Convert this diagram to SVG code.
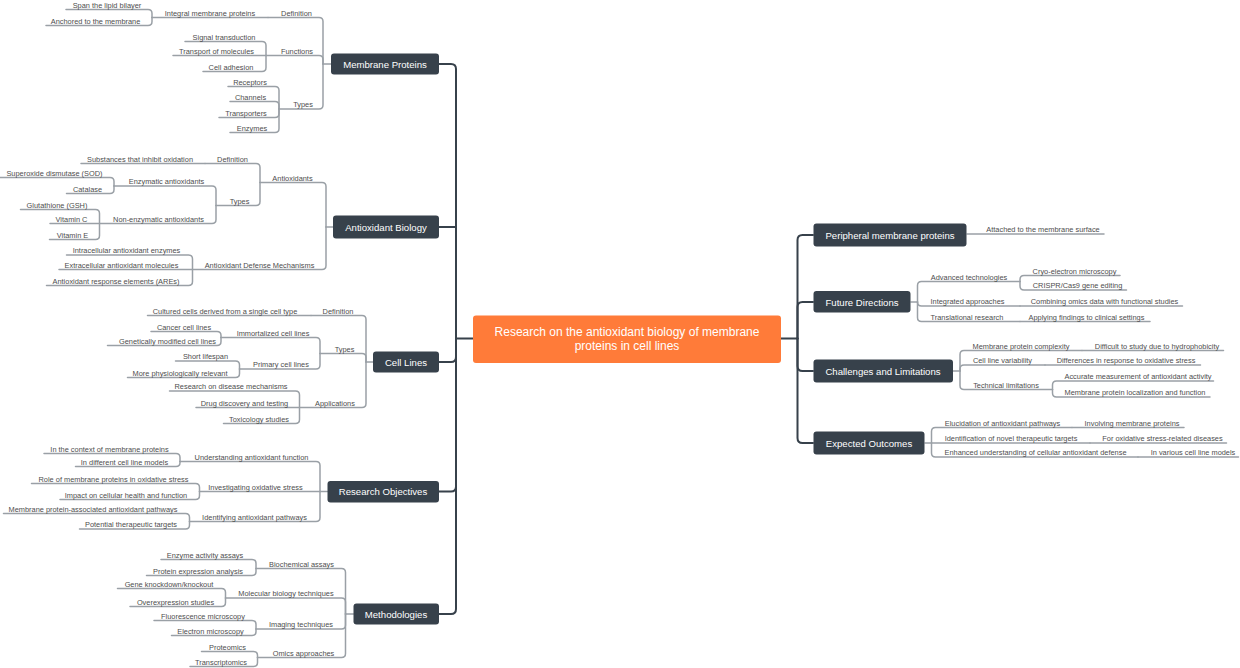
<svg xmlns="http://www.w3.org/2000/svg" width="1240" height="668" viewBox="0 0 1240 668">
<style>
.bg{fill:#ffffff}
.main{fill:none;stroke:#37414b;stroke-width:2;stroke-linecap:round;stroke-linejoin:round}
.sub{fill:none;stroke:#9aa0a6;stroke-width:1.5;stroke-linecap:round;stroke-linejoin:round}
.box{fill:#37414b}
.root{fill:#ff7b39}
.bt{font-family:"Liberation Sans",Arial,sans-serif;font-size:9.6px;fill:#ffffff;text-anchor:middle}
.rt{font-family:"Liberation Sans",Arial,sans-serif;font-size:12px;fill:#ffffff;text-anchor:middle}
.l{font-family:"Liberation Sans",Arial,sans-serif;font-size:7.4px;fill:#4d4d4d;text-anchor:middle}
</style>
<rect class="bg" x="0" y="0" width="1240" height="668"/>
<g id="connectors">
<g id="main-connectors">
<path class="main" d="M473 338.5 H456"/>
<path class="main" d="M456 338.5 V69 Q456 64 451 64 H439"/>
<path class="main" d="M456 338.5 V227 H439"/>
<path class="main" d="M456 338.5 V357 Q456 362 451 362 H439"/>
<path class="main" d="M456 338.5 V486.5 Q456 491.5 451 491.5 H439"/>
<path class="main" d="M456 338.5 V609 Q456 614 451 614 H439"/>
<path class="main" d="M781 338.5 H797.5"/>
<path class="main" d="M797.5 338.5 V240 Q797.5 235 802.5 235 H813"/>
<path class="main" d="M797.5 338.5 V307 Q797.5 302 802.5 302 H813"/>
<path class="main" d="M797.5 338.5 V366 Q797.5 371 802.5 371 H813"/>
<path class="main" d="M797.5 338.5 V438 Q797.5 443 802.5 443 H813"/>
</g>
<g id="sub-connectors">
<path class="sub" d="M331 64 H323"/>
<path class="sub" d="M323 64 V21.5 Q323 17.5 319 17.5 H268"/>
<path class="sub" d="M268 17.5 H152"/>
<path class="sub" d="M152 17.5 V13.5 Q152 9.5 148 9.5 H66"/>
<path class="sub" d="M152 17.5 V21.5 Q152 25.5 148 25.5 H46"/>
<path class="sub" d="M323 64 V59.5 Q323 55.5 319 55.5 H266"/>
<path class="sub" d="M266 55.5 V45.5 Q266 41.5 262 41.5 H185"/>
<path class="sub" d="M266 55.5 H173"/>
<path class="sub" d="M266 55.5 V67.5 Q266 71.5 262 71.5 H203"/>
<path class="sub" d="M323 64 V105 Q323 109 319 109 H279"/>
<path class="sub" d="M279 109 V90.5 Q279 86.5 275 86.5 H228"/>
<path class="sub" d="M279 109 V105.5 Q279 101.5 275 101.5 H230"/>
<path class="sub" d="M279 109 V113.5 Q279 117.5 275 117.5 H219"/>
<path class="sub" d="M279 109 V128.5 Q279 132.5 275 132.5 H230"/>

<path class="sub" d="M333 227 H326"/>
<path class="sub" d="M326 227 V186.5 Q326 182.5 322 182.5 H260"/>
<path class="sub" d="M260 182.5 V167.5 Q260 163.5 256 163.5 H205"/>
<path class="sub" d="M205 163.5 H81"/>
<path class="sub" d="M260 182.5 V201.5 Q260 205.5 256 205.5 H216"/>
<path class="sub" d="M216 205.5 V190 Q216 186 212 186 H114"/>
<path class="sub" d="M114 186 V181.5 Q114 177.5 110 177.5 H0"/>
<path class="sub" d="M114 186 V189.5 Q114 193.5 110 193.5 H66.5"/>
<path class="sub" d="M216 205.5 V219.5 Q216 223.5 212 223.5 H99.5"/>
<path class="sub" d="M99.5 223.5 V213.5 Q99.5 209.5 95.5 209.5 H20.5"/>
<path class="sub" d="M99.5 223.5 H50"/>
<path class="sub" d="M99.5 223.5 V235.5 Q99.5 239.5 95.5 239.5 H49.5"/>
<path class="sub" d="M326 227 V265.5 Q326 269.5 322 269.5 H192.5"/>
<path class="sub" d="M192.5 269.5 V259 Q192.5 255 188.5 255 H66.5"/>
<path class="sub" d="M192.5 269.5 H59"/>
<path class="sub" d="M192.5 269.5 V281.5 Q192.5 285.5 188.5 285.5 H46.5"/>

<path class="sub" d="M373 362 H366"/>
<path class="sub" d="M366 362 V319.5 Q366 315.5 362 315.5 H311"/>
<path class="sub" d="M311 315.5 H147.5"/>
<path class="sub" d="M366 362 V357.5 Q366 353.5 362 353.5 H320"/>
<path class="sub" d="M320 353.5 V341.5 Q320 337.5 316 337.5 H221"/>
<path class="sub" d="M221 337.5 V335.5 Q221 331.5 217 331.5 H151"/>
<path class="sub" d="M221 337.5 V341.5 Q221 345.5 217 345.5 H107.5"/>
<path class="sub" d="M320 353.5 V365 Q320 369 316 369 H239.5"/>
<path class="sub" d="M239.5 369 V365 Q239.5 361 235.5 361 H175.5"/>
<path class="sub" d="M239.5 369 V373.5 Q239.5 377.5 235.5 377.5 H127.5"/>
<path class="sub" d="M366 362 V403.5 Q366 407.5 362 407.5 H299.5"/>
<path class="sub" d="M299.5 407.5 V395 Q299.5 391 295.5 391 H169.5"/>
<path class="sub" d="M299.5 407.5 H196"/>
<path class="sub" d="M299.5 407.5 V419.5 Q299.5 423.5 295.5 423.5 H223.5"/>

<path class="sub" d="M327.5 491.5 H320"/>
<path class="sub" d="M320 491.5 V465.5 Q320 461.5 316 461.5 H180"/>
<path class="sub" d="M180 461.5 V457.5 Q180 453.5 176 453.5 H44"/>
<path class="sub" d="M180 461.5 V462.5 Q180 466.5 176 466.5 H75.5"/>
<path class="sub" d="M320 491.5 H199.5"/>
<path class="sub" d="M199.5 491.5 V487.5 Q199.5 483.5 195.5 483.5 H31.5"/>
<path class="sub" d="M199.5 491.5 V495.5 Q199.5 499.5 195.5 499.5 H60"/>
<path class="sub" d="M320 491.5 V517.5 Q320 521.5 316 521.5 H189.5"/>
<path class="sub" d="M189.5 521.5 V517.5 Q189.5 513.5 185.5 513.5 H3.5"/>
<path class="sub" d="M189.5 521.5 V525 Q189.5 529 185.5 529 H79.5"/>

<path class="sub" d="M353.5 614 H345.5"/>
<path class="sub" d="M345.5 614 V572.5 Q345.5 568.5 341.5 568.5 H256"/>
<path class="sub" d="M256 568.5 V563.5 Q256 559.5 252 559.5 H161"/>
<path class="sub" d="M256 568.5 V571.5 Q256 575.5 252 575.5 H146.5"/>
<path class="sub" d="M345.5 614 V602 Q345.5 598 341.5 598 H225.5"/>
<path class="sub" d="M225.5 598 V592.5 Q225.5 588.5 221.5 588.5 H117.5"/>
<path class="sub" d="M225.5 598 V602.5 Q225.5 606.5 221.5 606.5 H130"/>
<path class="sub" d="M345.5 614 V625 Q345.5 629 341.5 629 H256"/>
<path class="sub" d="M256 629 V624.5 Q256 620.5 252 620.5 H154"/>
<path class="sub" d="M256 629 V631.5 Q256 635.5 252 635.5 H171.5"/>
<path class="sub" d="M345.5 614 V653.5 Q345.5 657.5 341.5 657.5 H257.5"/>
<path class="sub" d="M257.5 657.5 V655.5 Q257.5 651.5 253.5 651.5 H201.5"/>
<path class="sub" d="M257.5 657.5 V662.5 Q257.5 666.5 253.5 666.5 H190"/>

<path class="sub" d="M967 234 H1104"/>

<path class="sub" d="M911 302 H917.5"/>
<path class="sub" d="M917.5 302 V285.5 Q917.5 281.5 921.5 281.5 H1020"/>
<path class="sub" d="M1020 281.5 V279.5 Q1020 275.5 1024 275.5 H1120"/>
<path class="sub" d="M1020 281.5 V286 Q1020 290 1024 290 H1126.5"/>
<path class="sub" d="M917.5 302 Q917.5 306 921.5 306 H1020"/>
<path class="sub" d="M1020 306 H1182.5"/>
<path class="sub" d="M917.5 302 V317.5 Q917.5 321.5 921.5 321.5 H1020"/>
<path class="sub" d="M1020 321.5 H1150"/>

<path class="sub" d="M953 371 H960"/>
<path class="sub" d="M960 371 V354.5 Q960 350.5 964 350.5 H1082"/>
<path class="sub" d="M1082 350.5 H1223.5"/>
<path class="sub" d="M960 371 V369 Q960 365 964 365 H1045"/>
<path class="sub" d="M1045 365 H1200.5"/>
<path class="sub" d="M960 371 V385.5 Q960 389.5 964 389.5 H1052.5"/>
<path class="sub" d="M1052.5 389.5 V385 Q1052.5 381 1056.5 381 H1213.5"/>
<path class="sub" d="M1052.5 389.5 V393 Q1052.5 397 1056.5 397 H1210"/>

<path class="sub" d="M925 443 H931.5"/>
<path class="sub" d="M931.5 443 V431.5 Q931.5 427.5 935.5 427.5 H1072"/>
<path class="sub" d="M1072 427.5 H1184"/>
<path class="sub" d="M931.5 443 H1090"/>
<path class="sub" d="M1090 443 H1226.5"/>
<path class="sub" d="M931.5 443 V453 Q931.5 457 935.5 457 H1138"/>
<path class="sub" d="M1138 457 H1238.5"/>
</g>
</g>

<g id="root">
<rect class="root" x="473" y="315.5" width="308" height="47.5" rx="3"/>
<text class="rt" x="627" y="336.3">Research on the antioxidant biology of membrane</text>
<text class="rt" x="627" y="350">proteins in cell lines</text>
</g>

<g id="membrane-proteins">
<rect class="box" x="331" y="53.5" width="108" height="21" rx="3"/>
<text class="bt" x="385" y="67.5">Membrane Proteins</text>
<text class="l" x="296.5" y="15.7">Definition</text>
<text class="l" x="210" y="15.7">Integral membrane proteins</text>
<text class="l" x="107" y="7.7">Span the lipid bilayer</text>
<text class="l" x="95.5" y="23.7">Anchored to the membrane</text>
<text class="l" x="297" y="53.7">Functions</text>
<text class="l" x="224" y="39.7">Signal transduction</text>
<text class="l" x="216.5" y="53.7">Transport of molecules</text>
<text class="l" x="231" y="69.7">Cell adhesion</text>
<text class="l" x="303" y="107.2">Types</text>
<text class="l" x="250" y="84.7">Receptors</text>
<text class="l" x="250.5" y="99.7">Channels</text>
<text class="l" x="246" y="115.7">Transporters</text>
<text class="l" x="252" y="130.7">Enzymes</text>
</g>

<g id="antioxidant-biology">
<rect class="box" x="333" y="215.5" width="106" height="23" rx="3"/>
<text class="bt" x="386" y="230.5">Antioxidant Biology</text>
<text class="l" x="292.5" y="180.7">Antioxidants</text>
<text class="l" x="232.5" y="161.7">Definition</text>
<text class="l" x="140" y="161.7">Substances that inhibit oxidation</text>
<text class="l" x="239.5" y="203.7">Types</text>
<text class="l" x="166.5" y="184.2">Enzymatic antioxidants</text>
<text class="l" x="54.5" y="175.7">Superoxide dismutase (SOD)</text>
<text class="l" x="87.5" y="191.7">Catalase</text>
<text class="l" x="158.5" y="221.7">Non-enzymatic antioxidants</text>
<text class="l" x="57" y="207.7">Glutathione (GSH)</text>
<text class="l" x="71.5" y="221.7">Vitamin C</text>
<text class="l" x="72.5" y="237.7">Vitamin E</text>
<text class="l" x="259.5" y="267.7">Antioxidant Defense Mechanisms</text>
<text class="l" x="126.5" y="253.2">Intracellular antioxidant enzymes</text>
<text class="l" x="121.5" y="267.7">Extracellular antioxidant molecules</text>
<text class="l" x="116" y="283.7">Antioxidant response elements (AREs)</text>
</g>

<g id="cell-lines">
<rect class="box" x="373" y="351.5" width="66" height="21" rx="3"/>
<text class="bt" x="406" y="365.5">Cell Lines</text>
<text class="l" x="338" y="313.7">Definition</text>
<text class="l" x="225" y="313.7">Cultured cells derived from a single cell type</text>
<text class="l" x="344.5" y="351.7">Types</text>
<text class="l" x="273" y="335.7">Immortalized cell lines</text>
<text class="l" x="184" y="329.7">Cancer cell lines</text>
<text class="l" x="167.5" y="343.7">Genetically modified cell lines</text>
<text class="l" x="281" y="367.2">Primary cell lines</text>
<text class="l" x="205.5" y="359.2">Short lifespan</text>
<text class="l" x="180" y="375.7">More physiologically relevant</text>
<text class="l" x="335" y="405.7">Applications</text>
<text class="l" x="231" y="389.2">Research on disease mechanisms</text>
<text class="l" x="244.5" y="405.7">Drug discovery and testing</text>
<text class="l" x="259" y="421.7">Toxicology studies</text>
</g>

<g id="research-objectives">
<rect class="box" x="327.5" y="481" width="111.5" height="21.5" rx="3"/>
<text class="bt" x="383" y="495">Research Objectives</text>
<text class="l" x="251.5" y="459.7">Understanding antioxidant function</text>
<text class="l" x="109.5" y="451.7">In the context of membrane proteins</text>
<text class="l" x="124.5" y="464.7">In different cell line models</text>
<text class="l" x="255.5" y="489.7">Investigating oxidative stress</text>
<text class="l" x="113.5" y="481.7">Role of membrane proteins in oxidative stress</text>
<text class="l" x="126" y="497.7">Impact on cellular health and function</text>
<text class="l" x="254.5" y="519.7">Identifying antioxidant pathways</text>
<text class="l" x="93" y="511.7">Membrane protein-associated antioxidant pathways</text>
<text class="l" x="131" y="527.2">Potential therapeutic targets</text>
</g>

<g id="methodologies">
<rect class="box" x="353.5" y="603.5" width="85.5" height="21" rx="3"/>
<text class="bt" x="396" y="617.5">Methodologies</text>
<text class="l" x="301.5" y="566.7">Biochemical assays</text>
<text class="l" x="205" y="557.7">Enzyme activity assays</text>
<text class="l" x="198" y="573.7">Protein expression analysis</text>
<text class="l" x="286" y="596.2">Molecular biology techniques</text>
<text class="l" x="169" y="586.7">Gene knockdown/knockout</text>
<text class="l" x="175.5" y="604.7">Overexpression studies</text>
<text class="l" x="301" y="627.2">Imaging techniques</text>
<text class="l" x="203" y="618.7">Fluorescence microscopy</text>
<text class="l" x="210.5" y="633.7">Electron microscopy</text>
<text class="l" x="303.5" y="655.7">Omics approaches</text>
<text class="l" x="227.5" y="649.7">Proteomics</text>
<text class="l" x="221" y="664.7">Transcriptomics</text>
</g>

<g id="peripheral-membrane-proteins">
<rect class="box" x="813.5" y="223.5" width="153" height="23" rx="3"/>
<text class="bt" x="890" y="238.5">Peripheral membrane proteins</text>
<text class="l" x="1043" y="232.2">Attached to the membrane surface</text>
</g>

<g id="future-directions">
<rect class="box" x="813.5" y="291" width="97" height="21.5" rx="3"/>
<text class="bt" x="862" y="305.5">Future Directions</text>
<text class="l" x="969" y="279.7">Advanced technologies</text>
<text class="l" x="1074.5" y="273.7">Cryo-electron microscopy</text>
<text class="l" x="1077.5" y="288.2">CRISPR/Cas9 gene editing</text>
<text class="l" x="967.5" y="304.2">Integrated approaches</text>
<text class="l" x="1104.5" y="304.2">Combining omics data with functional studies</text>
<text class="l" x="967" y="319.7">Translational research</text>
<text class="l" x="1086.5" y="319.7">Applying findings to clinical settings</text>
</g>

<g id="challenges-and-limitations">
<rect class="box" x="813.5" y="359.5" width="139.5" height="23" rx="3"/>
<text class="bt" x="883" y="374.5">Challenges and Limitations</text>
<text class="l" x="1021" y="348.7">Membrane protein complexity</text>
<text class="l" x="1157" y="348.7">Difficult to study due to hydrophobicity</text>
<text class="l" x="1002.5" y="363.2">Cell line variability</text>
<text class="l" x="1126" y="363.2">Differences in response to oxidative stress</text>
<text class="l" x="1006" y="387.7">Technical limitations</text>
<text class="l" x="1138" y="379.2">Accurate measurement of antioxidant activity</text>
<text class="l" x="1135" y="395.2">Membrane protein localization and function</text>
</g>

<g id="expected-outcomes">
<rect class="box" x="813.5" y="431.5" width="111" height="23" rx="3"/>
<text class="bt" x="869" y="446.5">Expected Outcomes</text>
<text class="l" x="1002.5" y="425.7">Elucidation of antioxidant pathways</text>
<text class="l" x="1132" y="425.7">Involving membrane proteins</text>
<text class="l" x="1011" y="441.2">Identification of novel therapeutic targets</text>
<text class="l" x="1162.5" y="441.2">For oxidative stress-related diseases</text>
<text class="l" x="1035.5" y="455.2">Enhanced understanding of cellular antioxidant defense</text>
<text class="l" x="1193" y="455.2">In various cell line models</text>
</g>
</svg>
